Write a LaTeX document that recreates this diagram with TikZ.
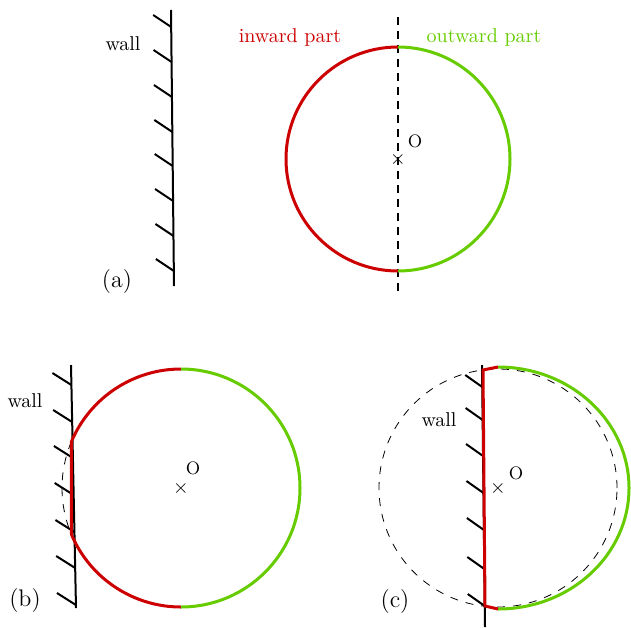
\documentclass[tikz,border=0pt]{standalone}
\usepackage{tikz}
\definecolor{inred}{RGB}{204,0,0}
\definecolor{outgreen}{RGB}{102,204,0}

\begin{document}
\begin{tikzpicture}[x=0.5pt,y=0.5pt,
  wallline/.style={line width=1pt},
  hatch/.style={line width=1pt},
  inpart/.style={inred,line width=1.5pt},
  outpart/.style={outgreen,line width=1.5pt},
  guide/.style={dash pattern=on 4pt off 4pt,line width=0.4pt}]

\useasboundingbox (0,0) rectangle (631,-627);

% ---------- (a) droplet away from the wall ----------

% wall
\draw[wallline] (171,-10) -- (174,-286);
\foreach \y in {27,62,97,132,166,201,236,271}
  \draw[hatch] ({171+3*(\y-10)/276},-\y) -- ++(-18,12);
\node (walla) at (123,-44) {wall};

% symmetry line
\draw[line width=0.8pt,dash pattern=on 4pt off 3pt] (398,-17) -- (398,-296);

% inward and outward halves
\coordinate (Oa) at (398,-159);
\draw[inpart] (Oa) ++(90:112) arc (90:270:112);
\draw[outpart] (Oa) ++(90:112) arc (90:-90:112);
\node (xa) at (Oa) {$\times$};
\node[font=\small] (oa) at (415,-141) {O};

\node[inred] (inlab) at (290,-37) {inward part};
\node[outgreen] (outlab) at (484,-37) {outward part};
\node[font=\large] (taga) at (117,-282) {(a)};

% ---------- (b) droplet flattened on the wall ----------

% wall
\draw[wallline] (71,-365) -- (76,-608);
\foreach \y in {385,422,458,495,532,568,605}
  \draw[hatch] ({71+5*(\y-365)/243},-\y) -- ++(-19,12);
\node (wallb) at (25,-401) {wall};

% droplet
\coordinate (Ob) at (181,-488);
\draw[guide] (Ob) ++(157:119) arc (157:203:119);
\draw[inpart] (Ob) ++(90:119) arc (90:157:119)
  -- ([shift={(203:119)}]Ob) arc (203:270:119);
\draw[outpart] (Ob) ++(90:119) arc (90:-90:119);
\node (xb) at (Ob) {$\times$};
\node[font=\small] (ob) at (193,-468) {O};

\node[font=\large] (tagb) at (25,-600) {(b)};

% ---------- (c) droplet pushed past its centre ----------

% original outline
\coordinate (Oc) at (498,-488);
\draw[guide] (Oc) circle (119);

% wall
\draw[wallline] (482,-365) -- (485,-627);
\foreach \y in {387,420,456,493,530,569,606}
  \draw[hatch] ({482+3*(\y-365)/262},-\y) -- ++(-17,12);
\node (wallc) at (439,-420) {wall};

% droplet
\draw[outpart] (Oc) ++(90:121)
  arc[start angle=90,end angle=-90,x radius=131,y radius=121];
\draw[inpart] ([shift={(90:121)}]Oc) -- (483,-370) -- (485,-606)
  -- ([shift={(-90:121)}]Oc);
\node (xc) at (Oc) {$\times$};
\node[font=\small] (oc) at (516,-473) {O};

\node[font=\large] (tagc) at (395,-601) {(c)};

\end{tikzpicture}
\end{document}
